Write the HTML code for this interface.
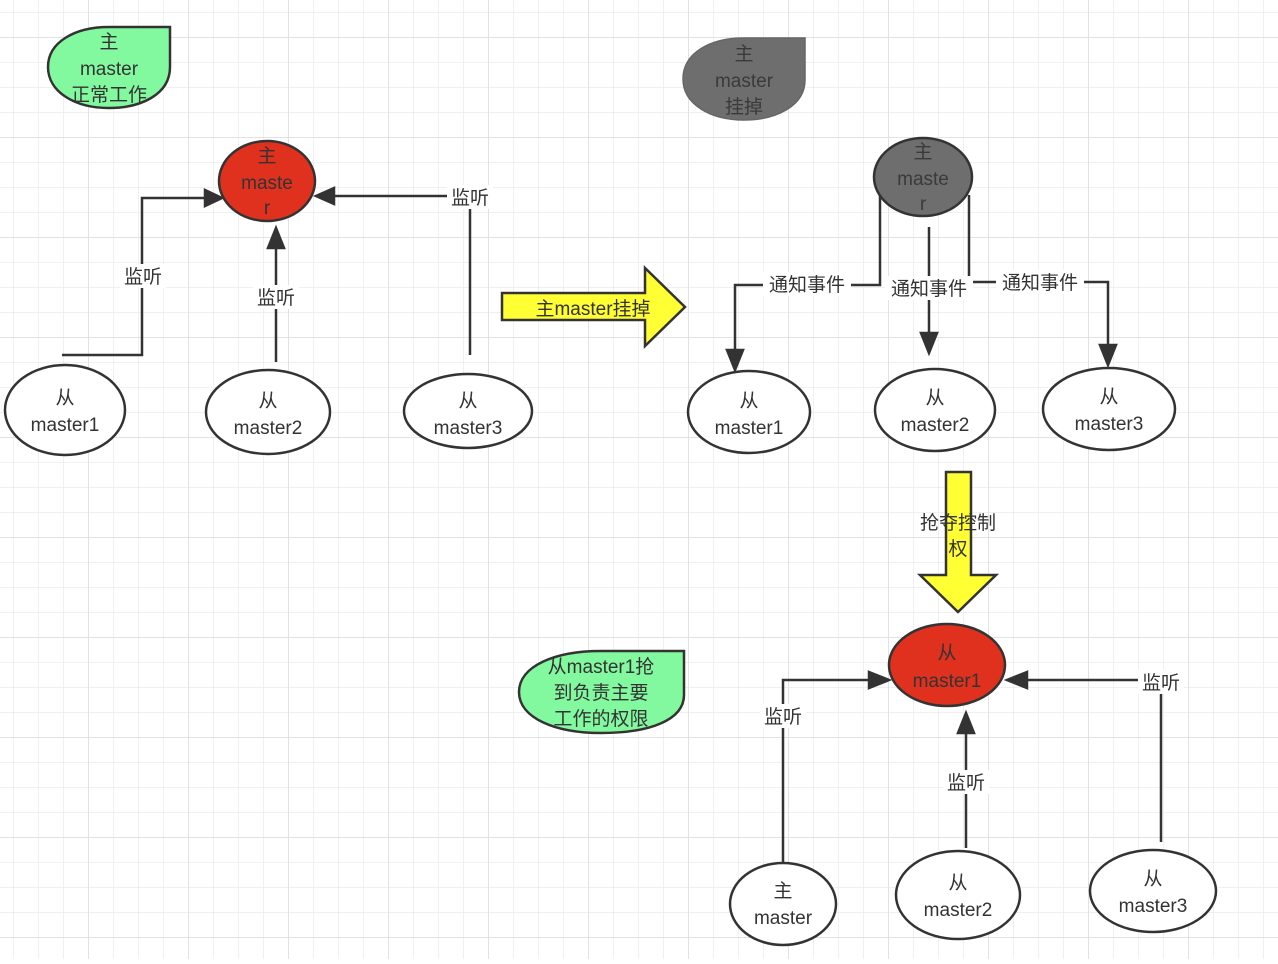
<!DOCTYPE html>
<html><head><meta charset="utf-8"><style>
html,body{margin:0;padding:0;background:#fff}
svg text{font-family:"Liberation Sans","Noto Sans CJK SC",sans-serif;font-size:19px;fill:#333;text-anchor:middle}
</style></head><body>
<svg width="1278" height="959" viewBox="0 0 1278 959" xmlns="http://www.w3.org/2000/svg">
<defs>
<pattern id="g" x="13" y="12" width="25" height="25" patternUnits="userSpaceOnUse">
<path d="M0 0V25M0 0H25" stroke="#ececec" stroke-width="1.5" fill="none"/>
</pattern>
<pattern id="G" x="88" y="137" width="100" height="100" patternUnits="userSpaceOnUse">
<path d="M0 0V100M0 0H100" stroke="#e2e2e2" stroke-width="2" fill="none"/>
</pattern>
<marker id="a" markerWidth="10" markerHeight="10" refX="9" refY="5" orient="auto" markerUnits="userSpaceOnUse" viewBox="0 0 10 10"><path d="M0 0L10 5L0 10Z" fill="#333"/></marker>
</defs>
<rect width="1278" height="959" fill="url(#g)"/>
<rect width="1278" height="959" fill="url(#G)"/>
<g stroke="#333" stroke-width="2.5" fill="none">
<!-- left group -->
<path d="M62 355H142V198H205"/><path d="M205 190L222 198L205 206Z" fill="#333"/>
<path d="M276 362V244"/><path d="M268 248L276 228L284 248Z" fill="#333"/>
<path d="M470 355V196H330"/><path d="M334 188L316 196L334 204Z" fill="#333"/>
<!-- right top -->
<path d="M880 195V285H735V352"/><path d="M727 350L735 370L743 350Z" fill="#333"/>
<path d="M929 227V335"/><path d="M921 333L929 353L937 333Z" fill="#333"/>
<path d="M969 195V282H1108V347"/><path d="M1100 345L1108 365L1116 345Z" fill="#333"/>
<!-- bottom -->
<path d="M783 862V680H872"/><path d="M869 672L889 680L869 688Z" fill="#333"/>
<path d="M966 848V730"/><path d="M958 733L966 713L974 733Z" fill="#333"/>
<path d="M1161 842V680H1025"/><path d="M1027 672L1007 680L1027 688Z" fill="#333"/>
</g>
<!-- labels on lines -->
<g>
<rect x="120" y="264" width="46" height="24" fill="#fff"/><text x="143" y="283">监听</text>
<rect x="253" y="285" width="46" height="24" fill="#fff"/><text x="276" y="304">监听</text>
<rect x="447" y="185" width="46" height="24" fill="#fff"/><text x="470" y="204">监听</text>
<rect x="763" y="272" width="88" height="24" fill="#fff"/><text x="807" y="291">通知事件</text>
<rect x="885" y="276" width="88" height="24" fill="#fff"/><text x="929" y="295">通知事件</text>
<rect x="996" y="270" width="88" height="24" fill="#fff"/><text x="1040" y="289">通知事件</text>
<rect x="760" y="704" width="46" height="24" fill="#fff"/><text x="783" y="723">监听</text>
<rect x="943" y="770" width="46" height="24" fill="#fff"/><text x="966" y="789">监听</text>
<rect x="1138" y="670" width="46" height="24" fill="#fff"/><text x="1161" y="689">监听</text>
</g>
<!-- leaves -->
<path d="M109 27H170V67C170 95 140 108 109 108C75 108 48 92 48 67C48 42 75 27 109 27Z" fill="#83f99f" stroke="#333" stroke-width="2.5"/>
<text x="109" y="48">主</text><text x="109" y="75">master</text><text x="109" y="101">正常工作</text>
<path d="M744 38H805V80C805 106 776 120 744 120C710 120 683 104 683 79C683 53 710 38 744 38Z" fill="#6e6e6e" stroke="#666" stroke-width="1.5"/>
<text x="744" y="60" style="fill:#3a3a3a">主</text><text x="744" y="87" style="fill:#3a3a3a">master</text><text x="744" y="113" style="fill:#3a3a3a">挂掉</text>
<path d="M601 651H684V695C684 720 650 733 601 733C555 733 519 718 519 692C519 666 555 651 601 651Z" fill="#83f99f" stroke="#333" stroke-width="2.5"/>
<text x="601" y="673">从master1抢</text><text x="601" y="699">到负责主要</text><text x="601" y="725">工作的权限</text>
<!-- nodes -->
<g stroke="#333" stroke-width="2.5">
<ellipse cx="267" cy="181" rx="48" ry="40" fill="#e0311f"/>
<ellipse cx="65" cy="410" rx="60" ry="45" fill="#fff"/>
<ellipse cx="268" cy="412" rx="62" ry="42" fill="#fff"/>
<ellipse cx="468" cy="411" rx="64" ry="37" fill="#fff"/>
<ellipse cx="923" cy="177" rx="49" ry="39" fill="#6e6e6e"/>
<ellipse cx="749" cy="412" rx="61" ry="41" fill="#fff"/>
<ellipse cx="935" cy="410" rx="60" ry="41" fill="#fff"/>
<ellipse cx="1109" cy="409" rx="66" ry="41" fill="#fff"/>
<ellipse cx="947" cy="665" rx="58" ry="41" fill="#e0311f"/>
<ellipse cx="783" cy="904" rx="53" ry="41" fill="#fff"/>
<ellipse cx="958" cy="895" rx="62" ry="44" fill="#fff"/>
<ellipse cx="1153" cy="891" rx="63" ry="41" fill="#fff"/>
</g>
<text x="267" y="162">主</text><text x="267" y="189">maste</text><text x="267" y="214">r</text>
<text x="65" y="404">从</text><text x="65" y="431">master1</text>
<text x="268" y="407">从</text><text x="268" y="434">master2</text>
<text x="468" y="407">从</text><text x="468" y="434">master3</text>
<g style="fill:#3a3a3a"><text x="923" y="158" style="fill:#3a3a3a">主</text><text x="923" y="185" style="fill:#3a3a3a">maste</text><text x="923" y="210" style="fill:#3a3a3a">r</text></g>
<text x="749" y="407">从</text><text x="749" y="434">master1</text>
<text x="935" y="404">从</text><text x="935" y="431">master2</text>
<text x="1109" y="403">从</text><text x="1109" y="430">master3</text>
<text x="947" y="659">从</text><text x="947" y="687">master1</text>
<text x="783" y="897">主</text><text x="783" y="924">master</text>
<text x="958" y="889">从</text><text x="958" y="916">master2</text>
<text x="1153" y="885">从</text><text x="1153" y="912">master3</text>
<!-- yellow arrows -->
<path d="M502 293H645V268L685 307L645 346V320H502Z" fill="#ffff33" stroke="#333" stroke-width="2.5"/>
<text x="593" y="315">主master挂掉</text>
<path d="M946 472H971V575H996L958 612L920 575H946Z" fill="#ffff33" stroke="#333" stroke-width="2.5"/>
<text x="958" y="529">抢夺控制</text><text x="958" y="555">权</text>
</svg>
</body></html>
